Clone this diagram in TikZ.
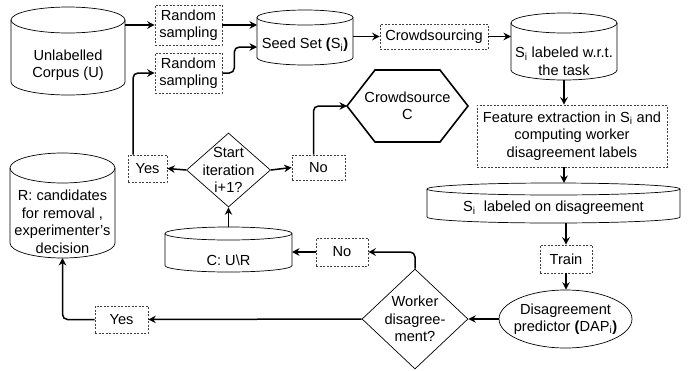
\documentclass[tikz,border=0pt]{standalone}
\usepackage{fontspec}
\setmainfont{Liberation Sans}
\usetikzlibrary{shapes.geometric,arrows.meta}

\tikzset{
  flow/.style={line width=1.5pt,-{Stealth[length=7.5pt,width=7.5pt,inset=2.5pt]},rounded corners=5pt},
  stepbox/.style={draw=black!75,dash pattern=on 2pt off 1.5pt,line width=.6pt,align=center,inner sep=1pt},
  store/.style={outer sep=0pt,inner sep=0pt},
  choice/.style={diamond,draw,line width=.7pt,inner sep=0pt},
}
% outline of a store: node, half width, cap radius
\newcommand\storeoutline[3]{%
  \draw[line width=.7pt] ([yshift=-#3pt]#1.north west) -- ([yshift=#3pt]#1.south west)
    arc[start angle=180,end angle=0,x radius=#2,y radius=#3] -- ([yshift=-#3pt]#1.north east);
  \draw[line width=.7pt] ([yshift=-#3pt]#1.north) ellipse[x radius=#2,y radius=#3];
}

\begin{document}
\begin{tikzpicture}[x=1pt,y=-1pt,font=\fontsize{14.6}{17.5}\selectfont]
  \useasboundingbox (0,0) rectangle (694,370);

  % stores
  \node[store,minimum width=114,minimum height=88,
        label={[align=center,yshift=-14pt]center:{Unlabelled\\Corpus (U)}}] (u) at (68,51) {};
  \node[store,minimum width=96,minimum height=55,
        label={[yshift=-7.5pt]center:{Seed Set \textbf{(}S\textsubscript{i}\textbf{)}}}] (seed) at (305,37.5) {};
  \node[store,minimum width=106,minimum height=67,
        label={[align=center,yshift=-15pt]center:{S\textsubscript{i} labeled w.r.t.\\the task}}] (task) at (564,46.5) {};
  \node[store,minimum width=253,minimum height=40,
        label={[yshift=-5pt]center:{S\textsubscript{i}\ \ labeled on disagreement}}] (dis) at (553.5,203) {};
  \node[store,minimum width=127,minimum height=45,
        label={[yshift=-10.5pt]center:{C: U\textbackslash R}}] (ccyl) at (228.5,249.5) {};
  \node[store,minimum width=105,minimum height=105,
        label={[align=center,yshift=-16.5pt]center:{R: candidates\\for removal ,\\experimenter's\\decision}}] (rcyl) at (62.5,205.5) {};
  \storeoutline{u}{57}{13}
  \storeoutline{seed}{48}{7.5}
  \storeoutline{task}{53}{10}
  \storeoutline{dis}{126.5}{6}
  \storeoutline{ccyl}{63.5}{6.5}
  \storeoutline{rcyl}{52.5}{15}

  % steps
  \node[stepbox,minimum width=67,minimum height=40] (rs1) at (188.5,25) {Random\\sampling};
  \node[stepbox,minimum width=67,minimum height=40] (rs2) at (188.5,73) {Random\\sampling};
  \node[stepbox,minimum width=108,minimum height=25] (cs) at (434,36.5) {Crowdsourcing};
  \node[stepbox,minimum width=190,minimum height=62] (feat) at (572,136)
    {Feature extraction in S\textsubscript{i} and\\computing worker\\disagreement labels};
  \node[stepbox,minimum width=52,minimum height=28] (train) at (566,259) {Train};
  \node[stepbox,minimum width=52,minimum height=28] (no2) at (342,252) {No};
  \node[stepbox,minimum width=39,minimum height=27] (yes1) at (147.5,168.5) {Yes};
  \node[stepbox,minimum width=53,minimum height=25] (no1) at (318.5,167.5) {No};
  \node[stepbox,minimum width=53,minimum height=27] (yes2) at (121.5,319.5) {Yes};

  % predictor and decisions
  \node[ellipse,draw,line width=.7pt,minimum width=133,minimum height=58,
        label={[align=center]center:{Disagreement\\predictor \textbf{(}DAP\textsubscript{i}\textbf{)}}}] (pred) at (565.5,319) {};
  \node[choice,minimum width=106,minimum height=100,
        label={[align=center]center:{Worker\\disagree-\\ment?}}] (worker) at (415,319) {};
  \node[choice,minimum width=84,minimum height=74,
        label={[align=center]center:{Start\\iteration\\i+1?}}] (start) at (228.5,170) {};

  % hexagon
  \node[align=center,outer sep=0pt,minimum width=121,minimum height=72] (crowdC) at (407.5,106) {Crowdsource\\C};
  \draw[line width=1.6pt,line join=miter] (crowdC.west) -- ([xshift=28pt]crowdC.north west)
    -- ([xshift=-28pt]crowdC.north east) -- (crowdC.east)
    -- ([xshift=-28pt]crowdC.south east) -- ([xshift=28pt]crowdC.south west) -- cycle;

  % connectors
  \draw[flow] (rs1.west -| u.east) -- (rs1.west);
  \draw[flow] (rs1.east) -- (rs1.east -| seed.west);
  \draw[flow] (rs2.east) -- ++(12,0) |- ([yshift=-9.5pt]seed.west);
  \draw[flow] (cs.west -| seed.east) -- (cs.west);
  \draw[flow] (cs.east) -- (cs.east -| task.west);
  \draw[flow] (task.south) -- (task.south |- feat.north);
  \draw[flow] (feat.south -| task.south) -- (task.south |- dis.north);
  \draw[flow] (train.north |- dis.south) -- (train.north);
  \draw[flow] (train.south) -- (train.south |- pred.north);
  \draw[flow] (pred.west) -- (worker.east);
  \draw[flow] (worker.north) |- (no2.east);
  \draw[flow] (no2.west) -- (no2.west -| ccyl.east);
  \draw[flow] (ccyl.north) -- (start.south);
  \draw[flow] (start.west) -- (yes1.east);
  \draw[flow] (start.east) -- (no1.west);
  \draw[flow] ([xshift=-5pt]no1.north) |- (crowdC.west);
  \draw[flow] ([xshift=-14.5pt]yes1.north) |- (rs2.west);
  \draw[flow] (worker.west) -- (yes2.east);
  \draw[flow] (yes2.west) -| (rcyl.south);
\end{tikzpicture}
\end{document}
